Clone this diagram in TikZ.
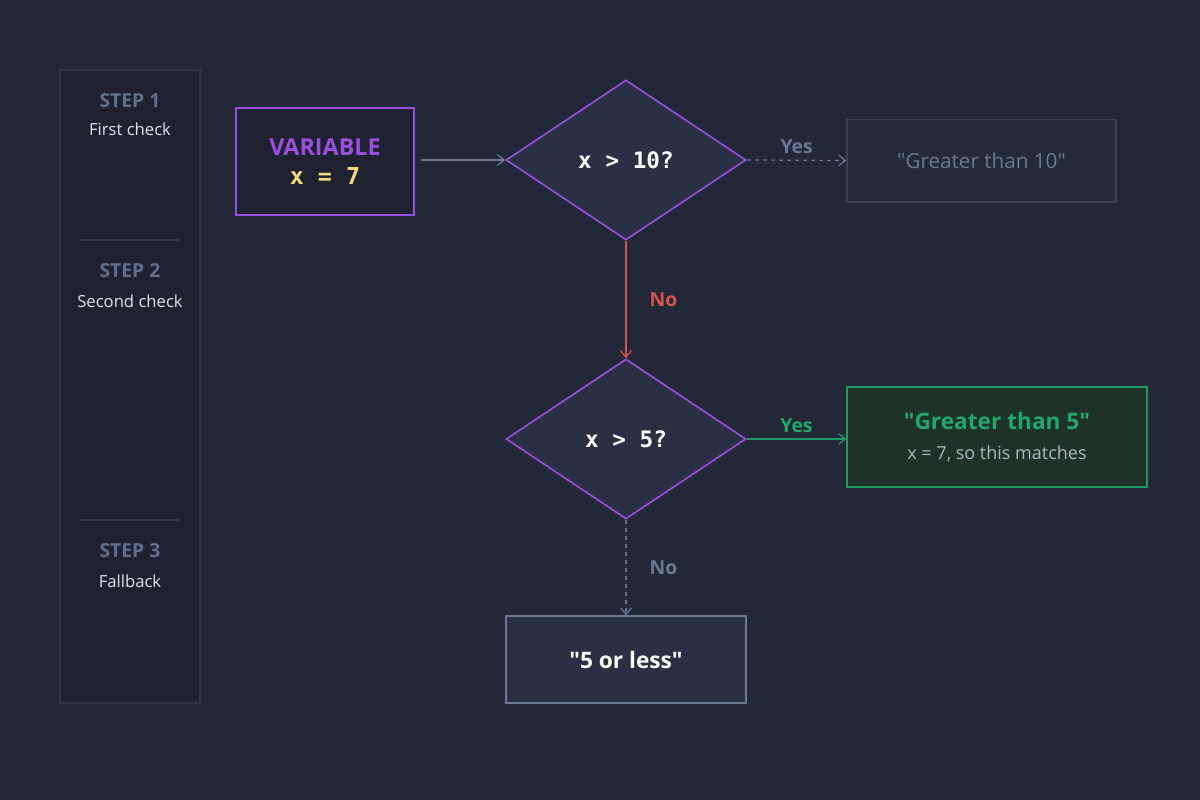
\documentclass[tikz,border=0pt]{standalone}
\usepackage{fontspec}
\setmainfont{Open Sans}[Ligatures=TeXOff]
\setmonofont{DejaVu Sans Mono}
\usetikzlibrary{shapes.geometric,arrows.meta}
\definecolor{bg}{HTML}{222838}
\definecolor{panel}{HTML}{1E2230}
\definecolor{panelb}{HTML}{2F3545}
\definecolor{steplbl}{HTML}{5F6F8C}
\definecolor{subt}{HTML}{DFE3EA}
\definecolor{purp}{HTML}{9B4FE0}
\definecolor{yel}{HTML}{F5D97A}
\definecolor{dia}{HTML}{2A3044}
\definecolor{grayc}{HTML}{6B7A94}
\definecolor{grayt}{HTML}{6B7890}
\definecolor{grayf}{HTML}{232A3A}
\definecolor{grayb}{HTML}{3A4152}
\definecolor{grn}{HTML}{1F9A62}
\definecolor{grnt}{HTML}{22A86A}
\definecolor{grnf}{HTML}{1E3228}
\definecolor{redc}{HTML}{D9534F}
\definecolor{lt}{HTML}{B0B8C4}
\newcommand{\qq}{\char"22\relax}
\begin{document}
\begin{tikzpicture}[x=0.75pt,y=-0.75pt,
 stepl/.style={text=steplbl,font=\bfseries\fontsize{14.5}{16}\selectfont},
 subl/.style={text=subt,font=\fontsize{12.5}{14}\selectfont},
 dec/.style={diamond,draw=purp,line width=1.2pt,fill=dia,minimum width=180pt,minimum height=120pt,aspect=1.5,inner sep=0pt,text=white,font=\ttfamily\bfseries\fontsize{17}{18}\selectfont},
 arr/.style={-{Straight Barb[length=5pt,width=8pt]},line width=0.9pt},
 lbl/.style={font=\bfseries\fontsize{14.5}{16}\selectfont}]
\fill[bg] (0,0) rectangle (1200,800);
\useasboundingbox (0,0) rectangle (1200,800);
\draw[panelb,fill=panel,line width=1pt] (60,70) rectangle (200,703);
\draw[panelb,line width=1.2pt] (80,240)--(180,240) (80,520)--(180,520);
\node[stepl] (s1) at (130,101) {STEP 1};
\node[subl] (t1) at (130,129) {First check};
\node[stepl] (s2) at (130,271) {STEP 2};
\node[subl] (t2) at (130,301) {Second check};
\node[stepl] (s3) at (130,551) {STEP 3};
\node[subl] (t3) at (130,581) {Fallback};
\node[draw=purp,line width=1.2pt,fill=panel,minimum width=133.5pt,minimum height=80pt,align=center,font=\fontsize{17.5}{22}\selectfont] (var) at (325,161.5)
 {{\color{purp}\bfseries VARIABLE}\\{\color{yel}\ttfamily\bfseries x = 7}};
\node[dec] (d1) at (626,160) {x > 10?};
\node[dec] (d2) at (626,439) {x > 5?};
\node[draw=grayb,fill=grayf,line width=1pt,minimum width=201.75pt,minimum height=62pt,text=grayt,font=\fontsize{15.5}{18}\selectfont] (g) at (981.5,160.5) {\qq Greater than 10\qq};
\node[draw=grn,fill=grnf,line width=1.2pt,minimum width=225pt,minimum height=75pt,align=center,font=\fontsize{17}{22}\selectfont] (gr) at (997,437)
 {{\color{grnt}\bfseries \qq Greater than 5\qq}\\{\color{lt}\fontsize{13.5}{15}\selectfont x = 7, so this matches}};
\node[draw=grayc,fill=dia,line width=1.2pt,minimum width=180pt,minimum height=65pt,text=white,font=\bfseries\fontsize{17}{20}\selectfont] (b) at (626,659.5) {\qq 5 or less\qq};
\coordinate (va) at (421,160);
\draw[arr,grayc] (va) -- (d1.west);
\draw[arr,grayc,dashed] (d1.east) -- (g.west) node[midway,above=1pt,lbl,text=grayc] {Yes};
\draw[arr,redc] (d1.south) -- (d2.north) node[pos=0.5,right=14pt,lbl,text=redc] {No};
\draw[arr,grn] (d2.east) -- (gr.west |- d2.east) node[midway,above=1pt,lbl,text=grnt] {Yes};
\draw[arr,grayc,dashed] (d2.south) -- (b.north) node[pos=0.5,right=14pt,lbl,text=grayc] {No};
\end{tikzpicture}
\end{document}
